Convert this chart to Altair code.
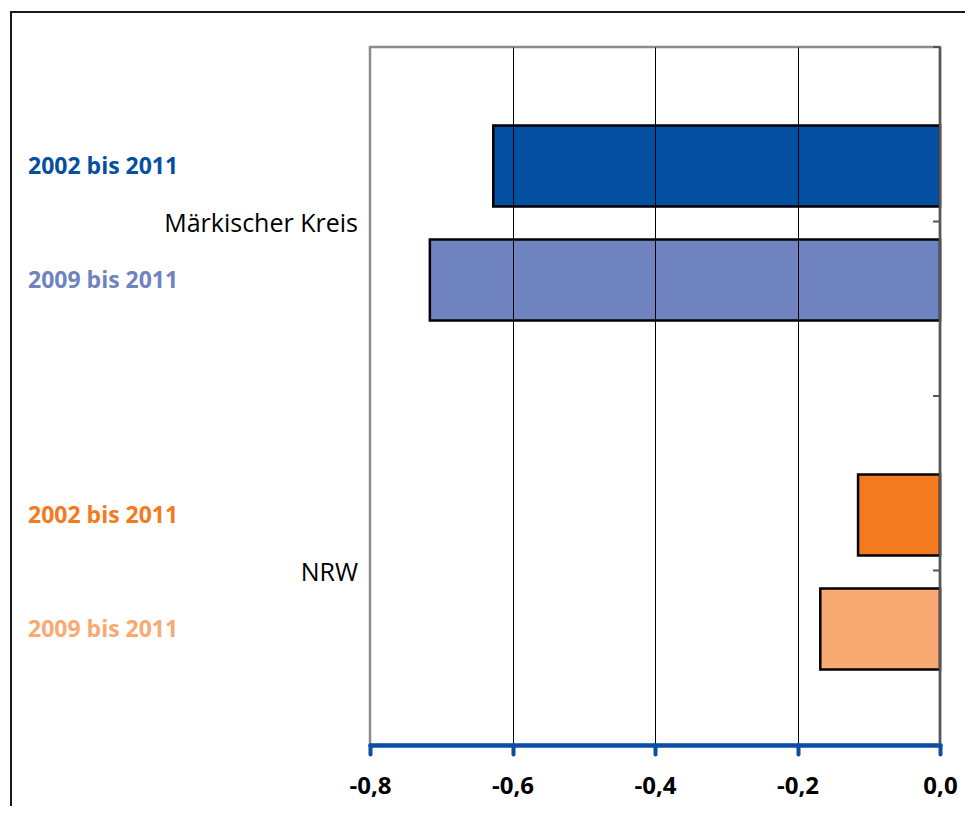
import altair as alt
import pandas as pd

regions = ["Märkischer Kreis", "NRW"]
periods = ["2002 bis 2011", "2009 bis 2011"]
mk_values = [-0.627, -0.716]
nrw_values = [-0.115, -0.168]
bar_colors = ["#054FA3", "#7083C1", "#F47A20", "#F9AA72"]
x_ticks = [-0.8, -0.6, -0.4, -0.2, 0.0]

rows = []
for r, vals in zip(regions, [mk_values, nrw_values]):
    for p, v in zip(periods, vals):
        rows.append({"region": r, "period": p, "value": v, "key": f"{r} | {p}"})
df = pd.DataFrame(rows)
keys = list(df["key"])
reg_df = pd.DataFrame({"region": regions})
one = pd.DataFrame({"a": [0]})

W, H = 570, 698

y_scale = alt.Scale(domain=regions, paddingInner=0, paddingOuter=0)
x_scale = alt.Scale(domain=[-0.8, 0], nice=False, zero=True)


def y_enc(bp=None):
    if bp is None:
        return alt.Y("region:N", sort=regions, scale=y_scale, axis=None)
    return alt.Y("region:N", sort=regions, scale=y_scale, axis=None, bandPosition=bp)


yoff = alt.YOffset("period:N", sort=periods,
                   scale=alt.Scale(domain=periods, paddingInner=0.29, paddingOuter=0.675, align=0.51))
color = alt.Color("key:N", scale=alt.Scale(domain=keys, range=bar_colors), legend=None)

x_axis = alt.Axis(
    values=x_ticks,
    labelExpr="(datum.value < 0 ? '-' : '') + replace(format(abs(datum.value), '.1f'), '.', ',')",
    title=None,
    domainColor="#0B4FA2", domainWidth=4.5, domainCap="round",
    tickColor="#0B4FA2", tickWidth=4, tickSize=9, tickCap="round",
    labelFont="Open Sans", labelFontSize=24, labelFontWeight="bold", labelColor="black",
    labelPadding=20, labelFlush=False, labelOverlap=False,
    grid=True, gridColor="black", gridWidth=1,
    gridOpacity={"condition": {"test": "datum.value <= -0.79 || datum.value >= -0.01", "value": 0}, "value": 1},
    zindex=1,
)

frame = alt.Chart(one).mark_rect(fill="white", fillOpacity=0, stroke="#1a1a1a", strokeWidth=2).encode(
    x=alt.value(-359), x2=alt.value(W + 80), y=alt.value(-35), y2=alt.value(H + 80)
)

bars = alt.Chart(df).mark_bar(stroke="black", strokeWidth=2.5).encode(
    x=alt.X("value:Q", scale=x_scale, axis=x_axis),
    y=y_enc(),
    yOffset=yoff,
    color=color,
)

period_text = alt.Chart(df).mark_text(
    align="left", baseline="middle", font="Open Sans", fontWeight="bold", fontSize=23, dy=1
).encode(
    x=alt.value(-342), y=y_enc(), yOffset=yoff, text="period:N", color=color
)

region_text = alt.Chart(reg_df).mark_text(
    align="right", baseline="middle", font="Open Sans", fontSize=25, color="black", dy=2
).encode(x=alt.value(-12), y=y_enc(), text="region:N")

right_line = alt.Chart(one).mark_rule(color="#555555", strokeWidth=2.5).encode(
    x=alt.datum(0, scale=x_scale)
)

ticks = [
    alt.Chart(reg_df).mark_rule(color="#555555", strokeWidth=2).encode(
        y=y_enc(bp), x=alt.value(W - 7), x2=alt.value(W)
    )
    for bp in (0, 0.5, 1)
]

chart = alt.layer(frame, bars, period_text, region_text, right_line, *ticks).properties(
    width=W, height=H,
    autosize=alt.AutoSizeParams(type="none"),
    padding={"left": 362, "top": 39, "right": 25, "bottom": 61},
).configure_view(stroke="#8c8c8c", strokeWidth=2.5)

chart.save("out.html", embed_options={"renderer": "svg", "actions": False})
